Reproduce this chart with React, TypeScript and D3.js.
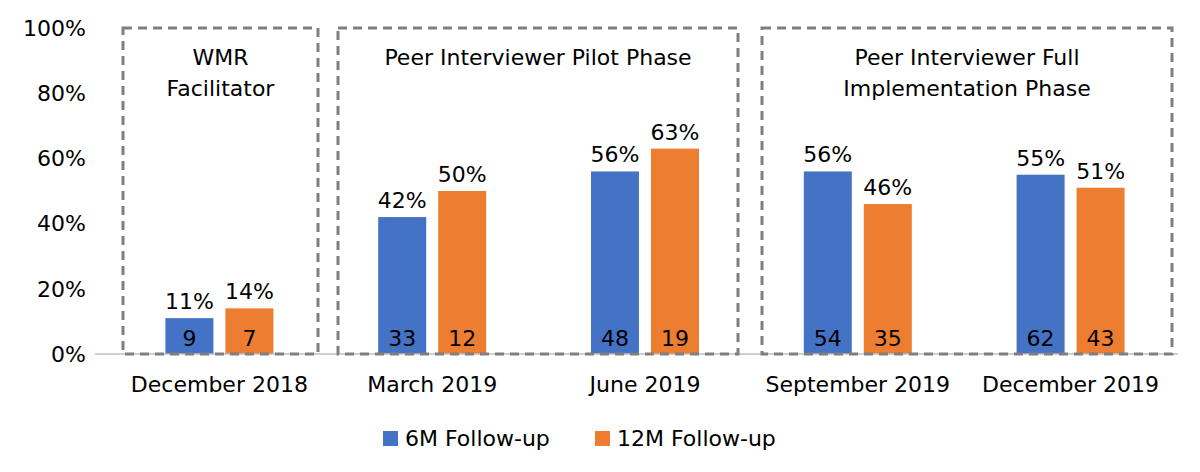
import React from 'react';
import * as d3 from 'd3';

const categories = ['December 2018', 'March 2019', 'June 2019', 'September 2019', 'December 2019'];
const series6M = [11, 42, 56, 56, 55];
const series12M = [14, 50, 63, 46, 51];
const count6M = [9, 33, 48, 54, 62];
const count12M = [7, 12, 19, 35, 43];
const yTicks = [0, 20, 40, 60, 80, 100];
const phases = [
  { lines: ['WMR', 'Facilitator'], from: 0, to: 0 },
  { lines: ['Peer Interviewer Pilot Phase'], from: 1, to: 2 },
  { lines: ['Peer Interviewer Full', 'Implementation Phase'], from: 3, to: 4 },
];

const BLUE = '#4472C4';
const ORANGE = '#ED7D31';
const FONT = 'Tahoma, "DejaVu Sans", sans-serif';

export default function App() {
  const W = 1200, H = 472;
  const y = d3.scaleLinear().domain([0, 100]).range([354, 28]);
  const x = d3.scaleBand<string>().domain(categories).range([113, 1177]);
  const bw = 48, gap = 12;
  const cx = (c: string) => (x(c) as number) + x.bandwidth() / 2;
  const boxes = [[123, 318], [338, 738], [762, 1172]];

  return (
    <svg width={W} height={H} style={{ position: 'absolute', left: 0, top: 0, background: '#fff' }} fontFamily={FONT}>
      {yTicks.map(t => (
        <text key={t} x={86} y={y(t)} dy="0.35em" textAnchor="end" fontSize={22} fill="#000">{t}%</text>
      ))}
      {categories.map((c, i) => {
        const c0 = cx(c);
        const bars = [
          { v: series6M[i], n: count6M[i], col: BLUE, x0: c0 - gap / 2 - bw },
          { v: series12M[i], n: count12M[i], col: ORANGE, x0: c0 + gap / 2 },
        ];
        return (
          <g key={c}>
            {bars.map((b, j) => (
              <g key={j}>
                <rect x={b.x0} y={y(b.v)} width={bw} height={y(0) - y(b.v)} fill={b.col} />
                <text x={b.x0 + bw / 2} y={y(b.v) - 9} textAnchor="middle" fontSize={22}>{b.v}%</text>
                <text x={b.x0 + bw / 2} y={346} textAnchor="middle" fontSize={22}>{b.n}</text>
              </g>
            ))}
            <text x={c0} y={392} textAnchor="middle" fontSize={22}>{c}</text>
          </g>
        );
      })}
      <line x1={95} x2={1178} y1={y(0)} y2={y(0)} stroke="#bfbfbf" strokeWidth={1.5} />
      {phases.map((p, i) => {
        const [a, b] = boxes[i];
        return (
          <g key={i}>
            <rect x={a} y={28} width={b - a} height={326} fill="none" stroke="#7f7f7f" strokeWidth={3} strokeDasharray="9,6" />
            {p.lines.map((l, k) => (
              <text key={k} x={(a + b) / 2} y={65 + k * 31} textAnchor="middle" fontSize={22}>{l}</text>
            ))}
          </g>
        );
      })}
      <rect x={383} y={431} width={15} height={15} fill={BLUE} />
      <text x={405} y={446} fontSize={22}>6M Follow-up</text>
      <rect x={595} y={431} width={15} height={15} fill={ORANGE} />
      <text x={617} y={446} fontSize={22}>12M Follow-up</text>
    </svg>
  );
}
